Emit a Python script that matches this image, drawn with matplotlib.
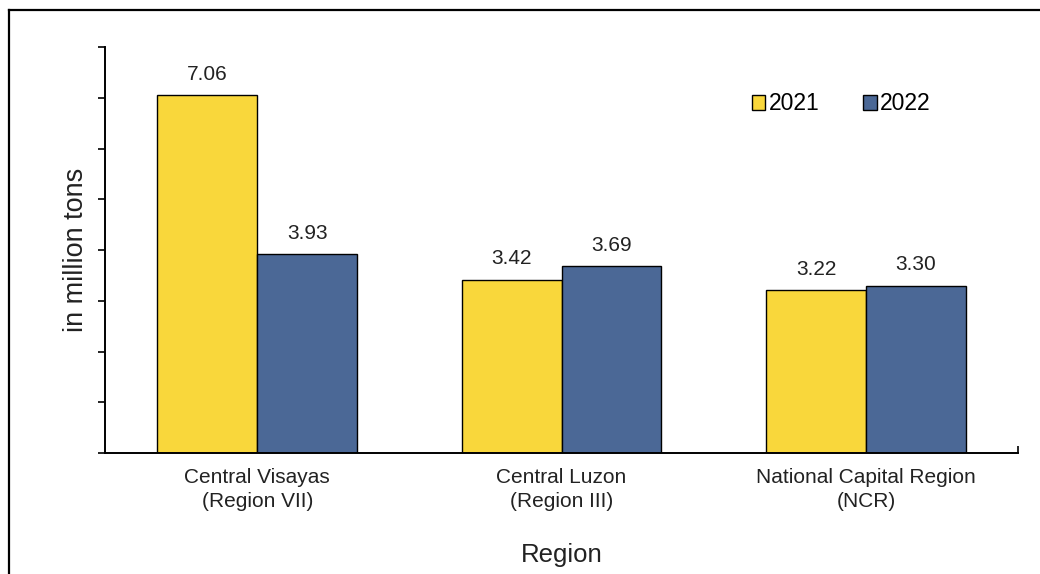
import matplotlib
matplotlib.use("Agg")
import matplotlib.pyplot as plt
from matplotlib.lines import Line2D
import numpy as np

# --- Dados ---
regioes = ["Central Visayas\n(Region VII)", "Central Luzon\n(Region III)",
           "National Capital Region\n(NCR)"]
anos = ["2021", "2022"]
valores_2021 = [7.06, 3.42, 3.22]
valores_2022 = [3.93, 3.69, 3.30]

COR_2021 = "#F9D73B"
COR_2022 = "#4B6896"
COR_TEXTO = "#222222"

plt.rcParams["font.family"] = ["Liberation Sans", "DejaVu Sans"]

fig = plt.figure(figsize=(10.4, 5.74), dpi=100)
ax = fig.add_axes([0.101, 0.2108, 0.878, 0.707])

x = np.arange(len(regioes))
largura = 0.328

barras1 = ax.bar(x - largura / 2, valores_2021, largura, color=COR_2021,
                 edgecolor="black", linewidth=1.0, label=anos[0])
barras2 = ax.bar(x + largura / 2, valores_2022, largura, color=COR_2022,
                 edgecolor="black", linewidth=1.0, label=anos[1])

for barras in (barras1, barras2):
    for b in barras:
        ax.annotate(f"{b.get_height():.2f}",
                    (b.get_x() + b.get_width() / 2, b.get_height()),
                    xytext=(0, 8), textcoords="offset points",
                    ha="center", va="bottom", fontsize=15, color=COR_TEXTO)

ax.set_xlim(-0.5, 2.5)
ax.set_ylim(0, 8)
ax.set_yticks(range(0, 9))
ax.set_yticklabels([])
ax.tick_params(axis="y", direction="out", length=5, width=1.2)
ax.set_xticks(x)
ax.set_xticklabels(regioes, fontsize=15, color=COR_TEXTO, linespacing=1.3)
ax.tick_params(axis="x", length=0, pad=11)
ax.set_xticks([2.5], minor=True)
ax.tick_params(axis="x", which="minor", direction="in", length=5, width=1.2)

for lado in ("top", "right"):
    ax.spines[lado].set_visible(False)
for lado in ("left", "bottom"):
    ax.spines[lado].set_linewidth(1.4)

ax.set_ylabel("in million tons", fontsize=19.5, labelpad=3, color=COR_TEXTO)
ax.set_xlabel("Region", fontsize=18.5, labelpad=23, color=COR_TEXTO)

ax.legend(loc="center left", bbox_to_anchor=(0.708, 0.86), ncol=2, frameon=False,
          fontsize=16.5, handlelength=0.6, handleheight=0.6, handletextpad=0.15,
          columnspacing=1.9, borderpad=0, borderaxespad=0)

# moldura da figura (topo e esquerda)
fig.add_artist(Line2D([9 / 1040, 9 / 1040], [0, 1 - 10 / 574],
                      transform=fig.transFigure, color="black", linewidth=1.6))
fig.add_artist(Line2D([9 / 1040, 1], [1 - 10 / 574, 1 - 10 / 574],
                      transform=fig.transFigure, color="black", linewidth=1.6))

fig.savefig("out.png", dpi=100)
